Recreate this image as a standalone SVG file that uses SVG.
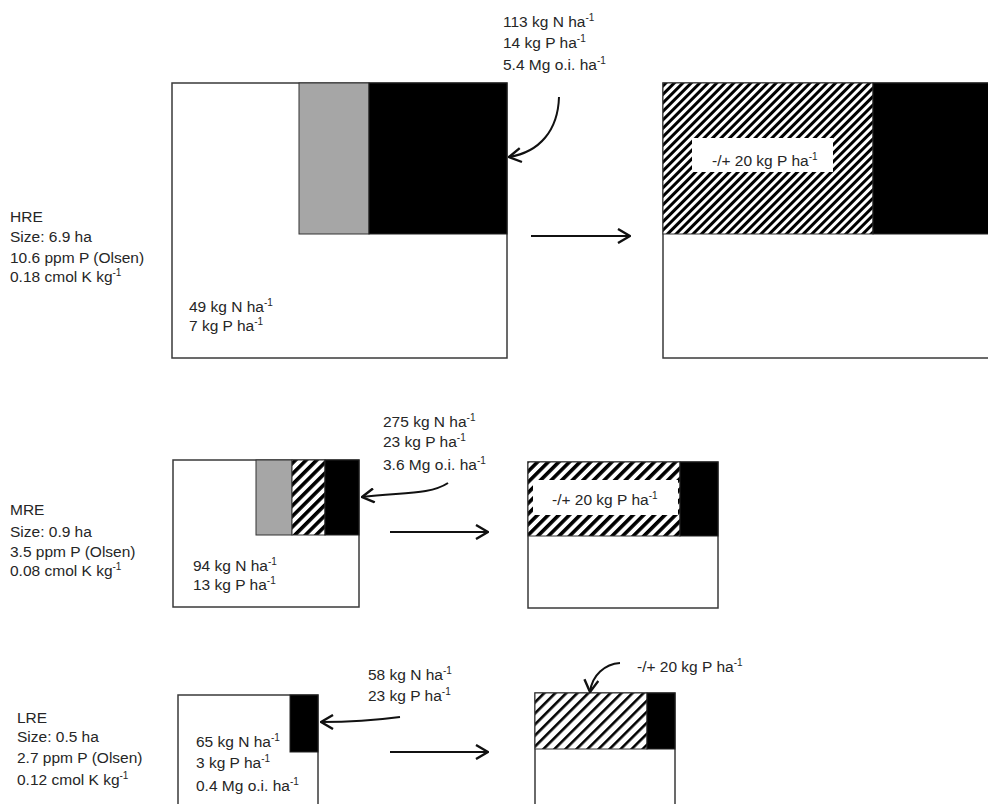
<svg xmlns="http://www.w3.org/2000/svg" width="988" height="804" viewBox="0 0 988 804">
<style>
text{font-family:"Liberation Sans",Arial,sans-serif;font-size:15.5px;fill:#262626}
.sup{font-size:10px}
.box{fill:#fff;stroke:#3a3a3a;stroke-width:1.5}
.blk{fill:#000;stroke:#222;stroke-width:1}
.gry{fill:#a6a6a6;stroke:#333;stroke-width:1}
.con{fill:none;stroke:#111;stroke-width:2}
</style>
<defs>
<pattern id="h1" patternUnits="userSpaceOnUse" width="6" height="6" patternTransform="rotate(45)"><rect width="6" height="6" fill="#fff"/><rect width="3" height="6" fill="#000"/></pattern>
<pattern id="h2" patternUnits="userSpaceOnUse" width="7.5" height="7.5" patternTransform="rotate(45)"><rect width="7.5" height="7.5" fill="#fff"/><rect width="3.6" height="7.5" fill="#000"/></pattern>
<pattern id="h3" patternUnits="userSpaceOnUse" width="7.8" height="7.8" patternTransform="rotate(45)"><rect width="7.8" height="7.8" fill="#fff"/><rect width="2.6" height="7.8" fill="#000"/></pattern>
<marker id="ah" viewBox="0 0 14 16" markerWidth="14" markerHeight="16" markerUnits="userSpaceOnUse" refX="13" refY="8" orient="auto"><path d="M1,1 L13,8 L1,15" fill="none" stroke="#111" stroke-width="2.4"/></marker>
</defs>

<g id="hre-info">
<text x="10" y="222">HRE</text>
<text x="10" y="242">Size: 6.9 ha</text>
<text x="10" y="263">10.6 ppm P (Olsen)</text>
<text x="10" y="282">0.18 cmol K kg<tspan class="sup" dy="-6">-1</tspan></text>
</g>
<g id="hre-input">
<text x="503" y="27">113 kg N ha<tspan class="sup" dy="-6">-1</tspan></text>
<text x="503" y="48">14 kg P ha<tspan class="sup" dy="-6">-1</tspan></text>
<text x="503" y="70">5.4 Mg o.i. ha<tspan class="sup" dy="-6">-1</tspan></text>
</g>
<g id="hre-before">
<rect class="box" x="172" y="83" width="335" height="275"/>
<rect class="gry" x="299" y="83" width="70" height="151"/>
<rect class="blk" x="369" y="83" width="138" height="151"/>
<text x="189" y="312">49 kg N ha<tspan class="sup" dy="-6">-1</tspan></text>
<text x="189" y="331">7 kg P ha<tspan class="sup" dy="-6">-1</tspan></text>
</g>
<g id="hre-after">
<rect class="box" x="663" y="83" width="340" height="275"/>
<rect x="663" y="83" width="210" height="151" fill="url(#h1)" stroke="#333" stroke-width="1"/>
<rect class="blk" x="873" y="83" width="130" height="151"/>
<rect x="692" y="138" width="141" height="34" fill="#fff"/>
<text x="712" y="166">-/+ 20 kg P ha<tspan class="sup" dy="-6">-1</tspan></text>
</g>

<g id="mre-info">
<text x="10" y="515">MRE</text>
<text x="10" y="537">Size: 0.9 ha</text>
<text x="10" y="557">3.5 ppm P (Olsen)</text>
<text x="10" y="576">0.08 cmol K kg<tspan class="sup" dy="-6">-1</tspan></text>
</g>
<g id="mre-input">
<text x="383" y="427">275 kg N ha<tspan class="sup" dy="-6">-1</tspan></text>
<text x="383" y="447">23 kg P ha<tspan class="sup" dy="-6">-1</tspan></text>
<text x="383" y="470">3.6 Mg o.i. ha<tspan class="sup" dy="-6">-1</tspan></text>
</g>
<g id="mre-before">
<rect class="box" x="173" y="460" width="186" height="147"/>
<rect class="gry" x="256" y="460" width="36" height="75"/>
<rect x="292" y="460" width="33" height="75" fill="url(#h2)" stroke="#333" stroke-width="1"/>
<rect class="blk" x="325" y="460" width="34" height="75"/>
<text x="193" y="571">94 kg N ha<tspan class="sup" dy="-6">-1</tspan></text>
<text x="193" y="590">13 kg P ha<tspan class="sup" dy="-6">-1</tspan></text>
</g>
<g id="mre-after">
<rect class="box" x="528" y="462" width="190" height="146"/>
<rect x="528" y="462" width="152" height="74" fill="url(#h2)" stroke="#333" stroke-width="1"/>
<rect class="blk" x="680" y="462" width="38" height="74"/>
<rect x="533" y="480" width="145" height="35" fill="#fff"/>
<text x="552" y="505">-/+ 20 kg P ha<tspan class="sup" dy="-6">-1</tspan></text>
</g>

<g id="lre-info">
<text x="17" y="723">LRE</text>
<text x="17" y="742">Size: 0.5 ha</text>
<text x="17" y="763">2.7 ppm P (Olsen)</text>
<text x="17" y="785">0.12 cmol K kg<tspan class="sup" dy="-6">-1</tspan></text>
</g>
<g id="lre-input">
<text x="368" y="680">58 kg N ha<tspan class="sup" dy="-6">-1</tspan></text>
<text x="368" y="701">23 kg P ha<tspan class="sup" dy="-6">-1</tspan></text>
</g>
<g id="lre-before">
<rect class="box" x="178" y="695" width="140" height="130"/>
<rect class="blk" x="290" y="695" width="28" height="57"/>
<text x="196" y="747">65 kg N ha<tspan class="sup" dy="-6">-1</tspan></text>
<text x="196" y="768">3 kg P ha<tspan class="sup" dy="-6">-1</tspan></text>
<text x="196" y="791">0.4 Mg o.i. ha<tspan class="sup" dy="-6">-1</tspan></text>
</g>
<g id="lre-after">
<rect class="box" x="535" y="693" width="140" height="130"/>
<rect x="535" y="693" width="112" height="56" fill="url(#h3)" stroke="#333" stroke-width="1"/>
<rect class="blk" x="647" y="693" width="28" height="56"/>
</g>
<g id="lre-label">
<text x="637" y="672">-/+ 20 kg P ha<tspan class="sup" dy="-6">-1</tspan></text>
</g>

<g id="connectors">
<path class="con" d="M559,97 C558,130 540,152 509,157" marker-end="url(#ah)"/>
<path class="con" d="M531,236 L630,236" marker-end="url(#ah)"/>
<path class="con" d="M448,483 C430,495 400,492 362,497" marker-end="url(#ah)"/>
<path class="con" d="M390,532 L488,532" marker-end="url(#ah)"/>
<path class="con" d="M400,717 C370,721 345,722 321,722" marker-end="url(#ah)"/>
<path class="con" d="M390,752 L488,752" marker-end="url(#ah)"/>
<path class="con" d="M620,663 C605,664 592,675 590,692" marker-end="url(#ah)"/>
</g>
</svg>
